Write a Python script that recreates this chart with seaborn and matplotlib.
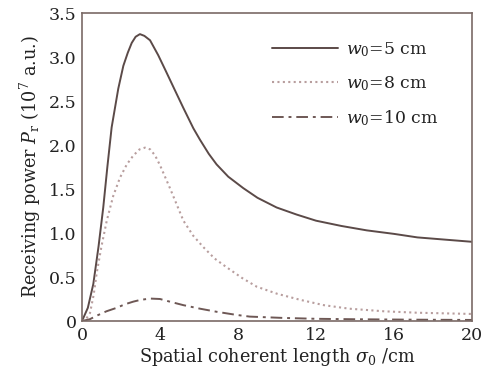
import numpy as np
import pandas as pd
import matplotlib
matplotlib.use("Agg")
import matplotlib.pyplot as plt
import seaborn as sns
from matplotlib.ticker import MultipleLocator, FixedLocator

# Data
x_w5 = [0, 0.3, 0.58, 0.85, 1.09, 1.3, 1.52, 1.86, 2.12, 2.35, 2.55, 2.75, 2.97, 3.2,
        3.49, 3.91, 4.3, 4.77, 5.2, 5.71, 6.05, 6.5, 6.9, 7.5, 8.27, 9.0, 9.98, 11.0,
        12.0, 13.3, 14.6, 16.0, 17.2, 18.6, 20.0]
y_w5 = [0, 0.15, 0.42, 0.85, 1.29, 1.75, 2.2, 2.64, 2.9, 3.05, 3.16, 3.23, 3.26, 3.24,
        3.19, 3.02, 2.84, 2.62, 2.42, 2.19, 2.06, 1.9, 1.78, 1.64, 1.51, 1.40, 1.29, 1.21,
        1.14, 1.08, 1.03, 0.99, 0.95, 0.925, 0.90]

x_w8 = [0, 0.2, 0.41, 0.6, 0.75, 1.0, 1.27, 1.6, 1.95, 2.3, 2.63, 2.95, 3.23, 3.5,
        3.75, 4.0, 4.51, 5.2, 5.7, 6.22, 6.8, 7.42, 8.2, 8.96, 10.0, 11.2, 12.4, 13.7,
        15.5, 17.2, 20.0]
y_w8 = [0, 0.02, 0.09, 0.3, 0.54, 0.85, 1.14, 1.42, 1.63, 1.78, 1.88, 1.95, 1.97, 1.95,
        1.88, 1.77, 1.51, 1.14, 0.97, 0.84, 0.71, 0.61, 0.49, 0.39, 0.31, 0.24, 0.18, 0.14,
        0.11, 0.094, 0.08]

x_w10 = [0, 0.4, 0.75, 1.25, 1.78, 2.2, 2.63, 3.0, 3.49, 4.0, 4.5, 5.2, 6.05, 6.9,
         7.9, 8.6, 10.3, 12.0, 14.0, 17.0, 20.0]
y_w10 = [0, 0.02, 0.06, 0.11, 0.15, 0.19, 0.22, 0.24, 0.255, 0.25, 0.22, 0.18, 0.14, 0.105,
         0.07, 0.05, 0.035, 0.025, 0.02, 0.015, 0.012]

labels = ["$w_0$=5 cm", "$w_0$=8 cm", "$w_0$=10 cm"]
xticks = [0, 4, 8, 12, 16, 20]
yticks = [0, 0.5, 1.0, 1.5, 2.0, 2.5, 3.0, 3.5]
ytick_labels = ["0", "0.5", "1.0", "1.5", "2.0", "2.5", "3.0", "3.5"]

df = pd.concat([
    pd.DataFrame({"x": x_w5, "y": y_w5, "series": labels[0]}),
    pd.DataFrame({"x": x_w8, "y": y_w8, "series": labels[1]}),
    pd.DataFrame({"x": x_w10, "y": y_w10, "series": labels[2]}),
])

sns.set_style("white")
plt.rcParams["font.family"] = ["DejaVu Serif"]
plt.rcParams["mathtext.fontset"] = "dejavuserif"

fig = plt.figure(figsize=(4.9, 3.74), dpi=100)
ax = fig.add_axes([82/490, 1-321/374, (472-82)/490, (321-13)/374])

colors = {labels[0]: "#5b4a48", labels[1]: "#b89e9e", labels[2]: "#6e5855"}
styles = {labels[0]: "-", labels[1]: (0, (1, 1.6)), labels[2]: (0, (6, 2.5, 1.5, 2.5))}
for lab in labels:
    sub = df[df["series"] == lab]
    sns.lineplot(data=sub, x="x", y="y", ax=ax, color=colors[lab],
                 linestyle=styles[lab], linewidth=1.4 if lab != labels[1] else 1.5,
                 label=lab, estimator=None, sort=False)

ax.set_xlim(0, 20)
ax.set_ylim(0, 3.5)
ax.xaxis.set_major_locator(FixedLocator(xticks))
ax.xaxis.set_minor_locator(MultipleLocator(2))
ax.set_yticks(yticks)
ax.set_yticklabels(ytick_labels)
ax.tick_params(axis="both", which="both", direction="in", labelsize=12.5,
               color="#7a6a66", labelcolor="#222222", pad=4)
ax.tick_params(axis="both", which="major", length=4)
ax.tick_params(axis="x", which="minor", length=4)
for s in ax.spines.values():
    s.set_color("#7a6a66")
    s.set_linewidth(1.2)

ax.set_xlabel(r"Spatial coherent length $\sigma_0$ /cm", fontsize=12.7, color="#222222", labelpad=2)
ax.set_ylabel(r"Receiving power $P_\mathrm{r}$ (10$^7$ a.u.)", fontsize=12.7, color="#222222", labelpad=4)

leg = ax.legend(loc="upper left", bbox_to_anchor=(0.487, 0.912), frameon=False,
                fontsize=12.4, handlelength=3.85, labelspacing=0.88, handletextpad=0.47,
                borderaxespad=0, borderpad=0)
for t in leg.get_texts():
    t.set_color("#222222")

fig.savefig("out.png", dpi=100)
